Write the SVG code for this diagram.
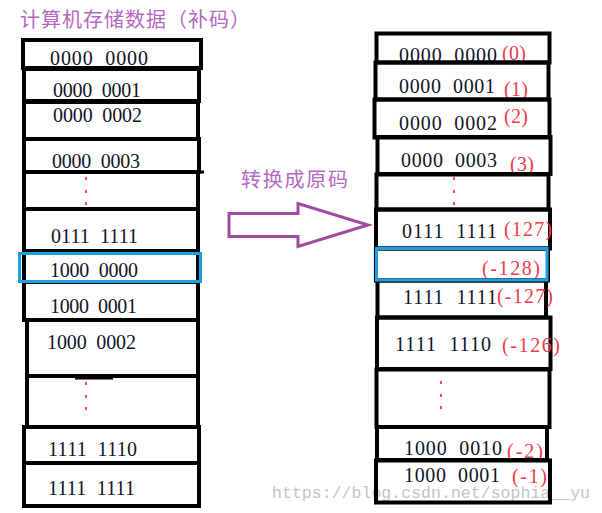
<svg xmlns="http://www.w3.org/2000/svg" width="602" height="513" viewBox="0 0 602 513" xml:space="preserve">
<style>
.box{fill:none;stroke:#000;stroke-width:4}
.sel{fill:none;stroke:#1ba1e2;stroke-width:3}
.bin{font-family:"Liberation Serif","Times New Roman",serif;font-size:20px;fill:#10142a;white-space:pre}
.num{font-family:"Liberation Serif","Times New Roman",serif;font-size:20px;fill:#f03a46}
.cjk{font-family:"Noto Sans CJK SC","Noto Sans",sans-serif;font-size:20px;fill:#b468c0}
.dot{fill:#ff4466}
.wm{font-family:"Liberation Mono","Courier New",monospace;font-size:16.5px;fill:#c4c4c4}
</style>
<rect width="602" height="513" fill="#fff"/>
<text class="wm" x="272" y="498" textLength="318">https://blog.csdn.net/sophia__yu</text>
<g id="title-left"><text class="cjk" x="20" y="27" font-size="21" textLength="230">计算机存储数据（补码）</text></g>
<g id="left-column">
<g id="L0"><rect class="box" x="23" y="40" width="178" height="28"/><text class="bin" x="50" y="65" font-size="21" textLength="98">0000  0000</text></g>
<g id="L1"><rect class="box" x="24" y="69" width="175" height="32"/><text class="bin" x="53" y="97" textLength="88">0000  0001</text></g>
<g id="L2"><rect class="box" x="24" y="102" width="174" height="37"/><text class="bin" x="53" y="122" textLength="89">0000  0002</text></g>
<g id="L3"><rect class="box" x="24" y="139" width="175" height="33"/><line x1="24" y1="172" x2="204" y2="172" stroke="#000" stroke-width="3"/><text class="bin" x="52" y="168" textLength="88">0000  0003</text></g>
<g id="L4"><rect class="box" x="24" y="172" width="174" height="37"/><rect class="dot" x="85" y="177" width="2" height="3"/><rect class="dot" x="85" y="190" width="2" height="3"/><rect class="dot" x="85" y="202" width="2" height="3"/></g>
<g id="L5"><rect class="box" x="24" y="209" width="174" height="42"/><text class="bin" x="51" y="243" textLength="87">0111  1111</text></g>
<g id="L6"><rect class="box" x="24" y="251" width="174" height="31"/><text class="bin" x="50" y="277" textLength="88">1000  0000</text></g>
<g id="L7"><rect class="box" x="24" y="282" width="174" height="38"/><text class="bin" x="50" y="313" textLength="87">1000  0001</text></g>
<g id="L8"><rect class="box" x="27" y="320" width="171" height="56"/><text class="bin" x="47" y="349" textLength="89">1000  0002</text></g>
<g id="L9"><rect class="box" x="27" y="376" width="171" height="51"/><rect x="75" y="376" width="38" height="3.5" fill="#000"/><rect class="dot" x="85" y="382" width="2" height="3"/><rect class="dot" x="85" y="395" width="2" height="3"/><rect class="dot" x="85" y="407" width="2" height="3"/></g>
<g id="L10"><rect class="box" x="24" y="427" width="175" height="36"/><text class="bin" x="48" y="456" textLength="89">1111  1110</text></g>
<g id="L11"><rect class="box" x="24" y="463" width="175" height="43"/><text class="bin" x="48" y="495" textLength="87">1111  1111</text></g>
<rect class="sel" x="19.5" y="253.5" width="181" height="28"/>
</g>
<g id="connectors">
<polygon points="229,213.5 298,213.5 298,203.5 368,225 298,246.5 298,236.5 229,236.5" fill="#fff" stroke="#a04aa2" stroke-width="3"/>
<text class="cjk" x="241" y="187" textLength="107">转换成原码</text>
</g>
<g id="right-column">
<g id="R0"><rect class="box" x="376.5" y="33.5" width="173" height="29"/><text class="bin" x="399" y="62" font-size="21" textLength="98">0000  0000</text><text class="num" x="502" y="60" textLength="24">(0)</text></g>
<g id="R1"><rect class="box" x="375.5" y="62.5" width="173" height="37"/><text class="bin" x="399" y="93" font-size="21" textLength="96">0000  0001</text><text class="num" x="504" y="96" textLength="24">(1)</text></g>
<g id="R2"><rect class="box" x="374.5" y="99.5" width="175" height="38"/><text class="bin" x="399" y="130" font-size="21" textLength="98">0000  0002</text><text class="num" x="504" y="123" textLength="24">(2)</text></g>
<g id="R3"><rect class="box" x="377.5" y="137" width="173" height="37"/><text class="bin" x="401" y="167" font-size="21" textLength="96">0000  0003</text><text class="num" x="510" y="171" textLength="24">(3)</text></g>
<g id="R4"><rect class="box" x="376.5" y="174.5" width="172" height="35"/><rect class="dot" x="453" y="177" width="2" height="3"/><rect class="dot" x="453" y="190" width="2" height="3"/><rect class="dot" x="453" y="202" width="2" height="3"/></g>
<g id="R5"><rect class="box" x="376" y="209.5" width="174" height="39"/><text class="bin" x="402" y="238" font-size="21" textLength="95">0111  1111</text><text class="num" x="504" y="236" textLength="48">(127)</text></g>
<g id="R6"><rect class="box" x="376" y="248.5" width="172" height="32"/><text class="num" x="482" y="275" textLength="58">(-128)</text></g>
<g id="R7"><rect class="box" x="377.5" y="280.5" width="168.5" height="37"/><text class="bin" x="403" y="304" font-size="21" textLength="94">1111  1111</text><text class="num" x="497" y="303" textLength="56">(-127)</text></g>
<g id="R8"><rect class="box" x="377" y="317.5" width="173.5" height="51.5"/><text class="bin" x="395" y="351" font-size="21" textLength="96">1111  1110</text><text class="num" x="502" y="352" textLength="58">(-126)</text></g>
<g id="R9"><rect class="box" x="376.5" y="369.5" width="173" height="57.5"/><rect class="dot" x="440" y="381" width="2" height="3"/><rect class="dot" x="440" y="394" width="2" height="3"/><rect class="dot" x="440" y="406" width="2" height="3"/></g>
<g id="R10"><rect class="box" x="377" y="427" width="170" height="33"/><text class="bin" x="404" y="455" font-size="21" textLength="98">1000  0010</text><text class="num" x="507" y="458" textLength="36">(-2)</text></g>
<g id="R11"><rect class="box" x="376" y="460.5" width="174" height="42"/><text class="bin" x="404" y="482" font-size="21" textLength="96">1000  0001</text><text class="num" x="512" y="483" textLength="35">(-1)</text></g>
<rect class="sel" x="376.5" y="248.5" width="170.5" height="31.5"/>
</g>
</svg>
